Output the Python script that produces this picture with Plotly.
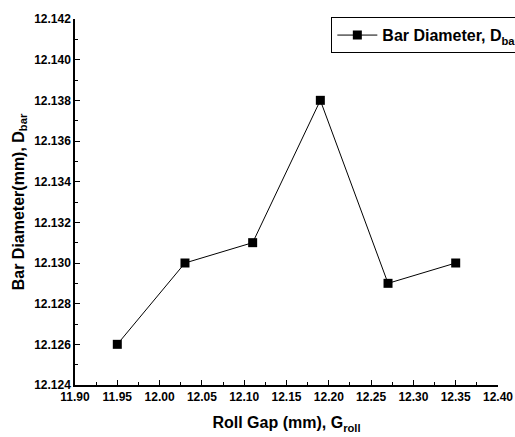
import plotly.graph_objects as go

roll_gap = [11.95, 12.03, 12.11, 12.19, 12.27, 12.35]
bar_diameter = [12.126, 12.130, 12.131, 12.138, 12.129, 12.130]
series_name = "Bar Diameter, D<sub>bar</sub>"

font_family = "Liberation Sans, Arial, sans-serif"

fig = go.Figure()
fig.add_trace(go.Scatter(
    x=roll_gap, y=bar_diameter, mode="lines+markers", name=series_name,
    line=dict(color="black", width=1),
    marker=dict(symbol="square", size=9, color="black"),
))

fig.update_layout(
    width=515, height=437,
    margin=dict(l=75, r=17, t=19, b=52, autoexpand=False),
    paper_bgcolor="white", plot_bgcolor="white",
    font=dict(family=font_family, color="black"),
    showlegend=True,
    legend=dict(
        x=0.606, y=1.005, xanchor="left", yanchor="top",
        bordercolor="black", borderwidth=1, bgcolor="white",
        font=dict(size=16, family=font_family, weight="bold"),
        itemwidth=40, tracegroupgap=0,
    ),
    xaxis=dict(
        range=[11.90, 12.40], dtick=0.05, tick0=11.90, tickformat=".2f",
        showline=True, linecolor="black", linewidth=1.5, mirror=False,
        showgrid=False, zeroline=False, automargin=False,
        ticks="inside", ticklen=5, tickwidth=1, tickcolor="black",
        minor=dict(ticks="inside", ticklen=3, dtick=0.025, tickcolor="black", showgrid=False),
        tickfont=dict(size=12, family=font_family, weight="bold"),
        title=dict(text="Roll Gap (mm), G<sub>roll</sub>", standoff=14,
                   font=dict(size=16, family=font_family, weight="bold")),
    ),
    yaxis=dict(
        range=[12.124, 12.142], dtick=0.002, tick0=12.124, tickformat=".3f",
        showline=True, linecolor="black", linewidth=1.5, mirror=False,
        showgrid=False, zeroline=False, automargin=False,
        ticks="inside", ticklen=5, tickwidth=1, tickcolor="black",
        minor=dict(ticks="inside", ticklen=3, dtick=0.001, tickcolor="black", showgrid=False),
        tickfont=dict(size=12, family=font_family, weight="bold"),
        title=dict(text="Bar Diameter(mm), D<sub>bar</sub>", standoff=6,
                   font=dict(size=16, family=font_family, weight="bold")),
    ),
)

fig.write_html(
    "out.html",
    config={"displayModeBar": False},
    post_script="document.body.style.margin='0';document.body.style.overflow='hidden';",
)
